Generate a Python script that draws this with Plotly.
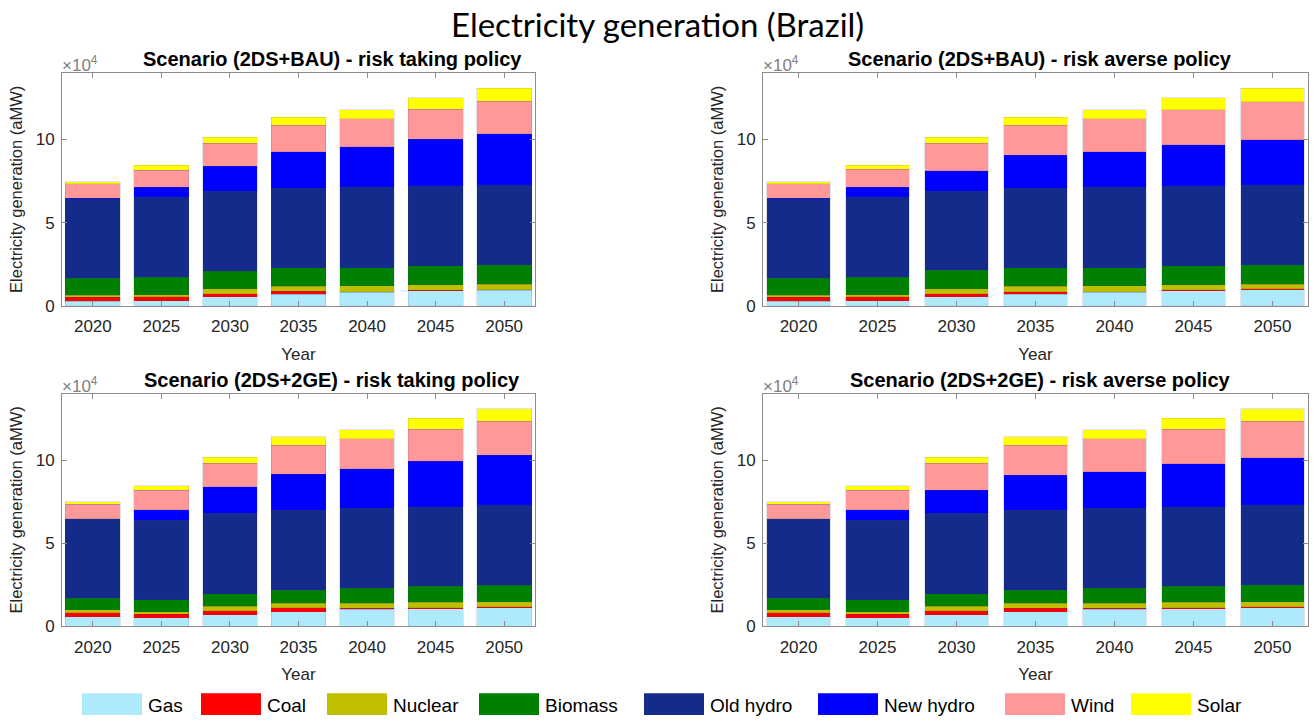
import plotly.graph_objects as go

# ---------------------------------------------------------------------------
# Data (average MW generated by each source)
# ---------------------------------------------------------------------------
years = [2020, 2025, 2030, 2035, 2040, 2045, 2050]
sources = ["Gas", "Coal", "Nuclear", "Biomass", "Old hydro", "New hydro", "Wind", "Solar"]
source_colors = ["#AEEAFB", "#FF0000", "#BFBF00", "#008000", "#142B8C", "#0000FF", "#FF9999", "#FFFF00"]

bau_risk_taking = {
    "Gas":       [2600, 3000, 5300, 6900, 8100, 8900, 9300],
    "Coal":      [2400, 2300, 2000, 1800, 200, 300, 300],
    "Nuclear":   [1300, 1400, 3000, 3000, 3600, 3300, 3300],
    "Biomass":   [10300, 10500, 10500, 11300, 11100, 11500, 11900],
    "Old hydro": [47800, 48400, 48100, 47700, 48300, 48100, 48100],
    "New hydro": [200, 5700, 15100, 22000, 24200, 28100, 30700],
    "Wind":      [8700, 10300, 13800, 16000, 17000, 18000, 19400],
    "Solar":     [1400, 2800, 3600, 4800, 5500, 6800, 7700],
}

bau_risk_averse = {
    "Gas":       [2600, 3000, 5300, 6900, 8100, 9100, 9500],
    "Coal":      [2400, 2300, 2000, 1600, 400, 600, 600],
    "Nuclear":   [1300, 1400, 3000, 3200, 3400, 2800, 2800],
    "Biomass":   [10300, 10500, 10900, 11300, 11100, 11500, 11900],
    "Old hydro": [47800, 48400, 47700, 47700, 48300, 48100, 48100],
    "New hydro": [200, 5700, 12300, 19800, 21400, 24800, 26900],
    "Wind":      [8700, 10900, 16600, 18200, 19800, 21100, 23000],
    "Solar":     [1400, 2200, 3600, 4800, 5500, 7000, 7900],
}

ge_risk_taking = {
    "Gas":       [5700, 5000, 6900, 8700, 10100, 10500, 11100],
    "Coal":      [2400, 2300, 2400, 2400, 600, 600, 600],
    "Nuclear":   [1800, 1400, 2800, 2800, 3200, 3400, 3200],
    "Biomass":   [6900, 7300, 7500, 7900, 8900, 9500, 9900],
    "Old hydro": [47800, 47800, 48300, 48100, 48100, 47700, 48300],
    "New hydro": [200, 6300, 15900, 21600, 23800, 27500, 29700],
    "Wind":      [8500, 11700, 14200, 17400, 18000, 19200, 20400],
    "Solar":     [1600, 2800, 3600, 5000, 5500, 6800, 7700],
}

ge_risk_averse = {
    "Gas":       [5700, 5000, 6900, 8700, 10100, 10500, 11100],
    "Coal":      [2400, 2300, 2400, 2200, 600, 600, 600],
    "Nuclear":   [1800, 1400, 2800, 3000, 3200, 3400, 3200],
    "Biomass":   [6900, 7300, 7500, 7900, 8900, 9500, 10100],
    "Old hydro": [47800, 47800, 48300, 48100, 48100, 47700, 48100],
    "New hydro": [200, 6300, 13900, 20800, 22000, 26100, 28300],
    "Wind":      [8500, 11700, 16200, 18200, 19800, 20600, 21800],
    "Solar":     [1600, 2800, 3600, 5000, 5500, 6800, 7700],
}

panel_titles = [
    "Scenario (2DS+BAU) - risk taking policy",
    "Scenario (2DS+BAU) - risk averse policy",
    "Scenario (2DS+2GE) - risk taking policy",
    "Scenario (2DS+2GE) - risk averse policy",
]
panel_data = [bau_risk_taking, bau_risk_averse, ge_risk_taking, ge_risk_averse]

y_ticks = [0, 50000, 100000]
y_tick_text = ["0", "5", "10"]

# ---------------------------------------------------------------------------
# Layout geometry (pixels in a 1314 x 728 canvas)
# ---------------------------------------------------------------------------
W, H = 1314, 728
# (left, right, top, bottom) of each plotting box
boxes = [
    (62, 535, 74, 310),
    (763, 1308, 74, 310),
    (62, 535, 399, 635),
    (763, 1308, 399, 635),
]
title_centers = [332, 1040, 332, 1040]


def px(x):
    return x / W


def py(y):
    return 1 - y / H


AXIS_GREY = "#8c8c8c"
TEXT_DARK = "#262626"
FONT = "Liberation Sans, Arial, sans-serif"

fig = go.Figure()
annotations = []
shapes = []

for i, (data, title) in enumerate(zip(panel_data, panel_titles)):
    n = "" if i == 0 else str(i + 1)
    for src, col in zip(sources, source_colors):
        fig.add_trace(go.Bar(
            x=years, y=data[src], name=src,
            marker=dict(color=col, line=dict(width=0.4, color="rgba(60,60,120,0.35)")),
            xaxis="x" + n, yaxis="y" + n, showlegend=False,
        ))
    l, r, t, b = boxes[i]
    axis_common = dict(
        showline=True, linecolor=AXIS_GREY, linewidth=1, mirror="ticks",
        ticks="inside", ticklen=5, tickcolor=AXIS_GREY,
        tickfont=dict(family=FONT, size=17, color=TEXT_DARK),
        showgrid=False, zeroline=False,
    )
    fig.update_layout(**{
        "xaxis" + n: dict(
            axis_common, domain=[px(l), px(r)], anchor="y" + n,
            range=[2017.75, 2052.25], tickvals=years, ticklabelstandoff=5,
            title=dict(text="Year", font=dict(family=FONT, size=17, color=TEXT_DARK), standoff=12),
        ),
        "yaxis" + n: dict(
            axis_common, domain=[py(b), py(t)], anchor="x" + n,
            range=[0, 140000], tickvals=y_ticks, ticktext=y_tick_text, ticklabelstandoff=3,
            title=dict(text="Electricity generation (aMW)",
                       font=dict(family=FONT, size=16.5, color=TEXT_DARK), standoff=8),
        ),
    })
    # panel title
    annotations.append(dict(
        text="<b>" + title + "</b>", x=px(title_centers[i]), y=py(t - 14),
        xref="paper", yref="paper", xanchor="center", yanchor="middle",
        showarrow=False, font=dict(family=FONT, size=20, color="#000000"),
    ))
    # exponent label for the y axis
    annotations.append(dict(
        text="×10<sup>4</sup>", x=px(l - 2), y=py(t - 9),
        xref="paper", yref="paper", xanchor="left", yanchor="middle",
        showarrow=False, font=dict(family=FONT, size=17, color="#808080"),
    ))

# Main title
annotations.append(dict(
    text="Electricity generation (Brazil)", x=0.5, y=py(24),
    xref="paper", yref="paper", xanchor="center", yanchor="middle",
    showarrow=False, font=dict(family="Lato, Open Sans, sans-serif", size=33, color="#000000"),
))

# Legend row: wide colour swatches followed by the source name
legend_left = [82, 201, 327, 479, 644, 818, 1005, 1131]
sw_w, sw_top, sw_bot = 60, 703, 725
for src, col, x0 in zip(sources, source_colors, legend_left):
    shapes.append(dict(
        type="rect", xref="paper", yref="paper",
        x0=px(x0), x1=px(x0 + sw_w), y0=py(sw_bot), y1=py(sw_top),
        fillcolor=col, line=dict(width=0),
    ))
    annotations.append(dict(
        text=src, x=px(x0 + sw_w + 4), y=py((sw_top + sw_bot) / 2 + 1),
        xref="paper", yref="paper", xanchor="left", yanchor="middle",
        showarrow=False, font=dict(family=FONT, size=19, color="#000000"),
    ))

fig.update_layout(
    width=W, height=H, barmode="stack", bargap=0.2,
    margin=dict(l=0, r=0, t=0, b=0),
    paper_bgcolor="white", plot_bgcolor="white",
    annotations=annotations, shapes=shapes,
    showlegend=False,
)

fig.write_html("out.html")
